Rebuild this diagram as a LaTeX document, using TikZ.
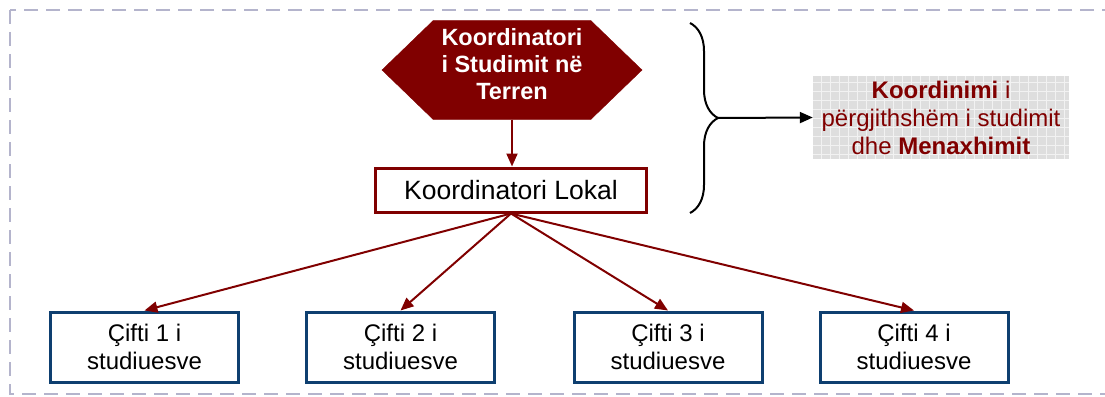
\documentclass[tikz,border=0pt]{standalone}
\usepackage{fontspec}
\setmainfont{Liberation Sans}
\usetikzlibrary{arrows.meta,shapes.symbols,decorations.pathreplacing}
\definecolor{darkred}{HTML}{800000}
\definecolor{navyblue}{HTML}{0E3F70}
\definecolor{framegray}{HTML}{B4B4CC}
\definecolor{boxgray}{HTML}{DEDEDE}

\begin{document}
\begin{tikzpicture}[x=1pt,y=-1pt,>={Triangle[length=13pt,width=11pt]},
        hex node/.style={signal, signal to=east and west, signal pointer angle=88,
            fill=darkred, draw=darkred, minimum width=260pt, minimum height=99pt, inner sep=0pt},
        hex text/.style={text=white, yshift=6pt, align=center, font=\fontsize{23.5}{27}\selectfont\bfseries},
        local node/.style={rectangle, draw=darkred, line width=3pt, fill=white, minimum width=271pt,
            minimum height=44pt, font=\fontsize{26.5}{30}\selectfont},
        pair node/.style={rectangle, draw=navyblue, line width=3pt, fill=white, minimum width=188pt,
            minimum height=70pt, align=center, font=\fontsize{24}{28}\selectfont},
        sum node/.style={rectangle, fill=boxgray, minimum width=256pt, minimum height=83pt, inner sep=0pt,
            align=center, text=darkred, font=\fontsize{24}{28}\selectfont,
            path picture={\draw[white!60!boxgray, line width=0.6pt] (path picture bounding box.south west)
                grid[step=9pt] (path picture bounding box.north east);}},
        red arrow/.style={->, draw=darkred, fill=darkred, line width=2pt}]
        \useasboundingbox (0,0) rectangle (1105,396);
        % frame
        \draw[framegray, line width=1.5pt, dash pattern=on 14pt off 8pt] (10,10) rectangle (1125,394);

        % nodes
        \node[hex node, label={[hex text]center:Koordinatori\\i Studimit në\\Terren}] (field) at (512,70) {};
        \node[local node] (local) at (511,190) {Koordinatori Lokal};
        \node[pair node] (p1) at (144.5,347) {Çifti 1 i\\studiuesve};
        \node[pair node] (p2) at (400.5,347) {Çifti 2 i\\studiuesve};
        \node[pair node] (p3) at (668,347) {Çifti 3 i\\studiuesve};
        \node[pair node] (p4) at (914,347) {Çifti 4 i\\studiuesve};
        \node[sum node] (general) at (941,117.5) {\textbf{Koordinimi} i\\përgjithshëm i studimit\\dhe \textbf{Menaxhimit}};

        % brace
        \coordinate (btop) at (690,23);
        \coordinate (bbot) at (690,213);
        \coordinate (btip) at (718,118);
        \draw[decorate, decoration={brace, amplitude=28pt}, line width=2pt] (btop) -- (bbot);

        % arrows
        \draw[red arrow] (field.south) -- (field.south |- local.north);
        \foreach \p in {p1,p2,p3,p4}
            \draw[red arrow] (local.south) -- (\p.north);
        \draw[->, line width=2pt] (btip) -- (general.west);
\end{tikzpicture}
\end{document}
